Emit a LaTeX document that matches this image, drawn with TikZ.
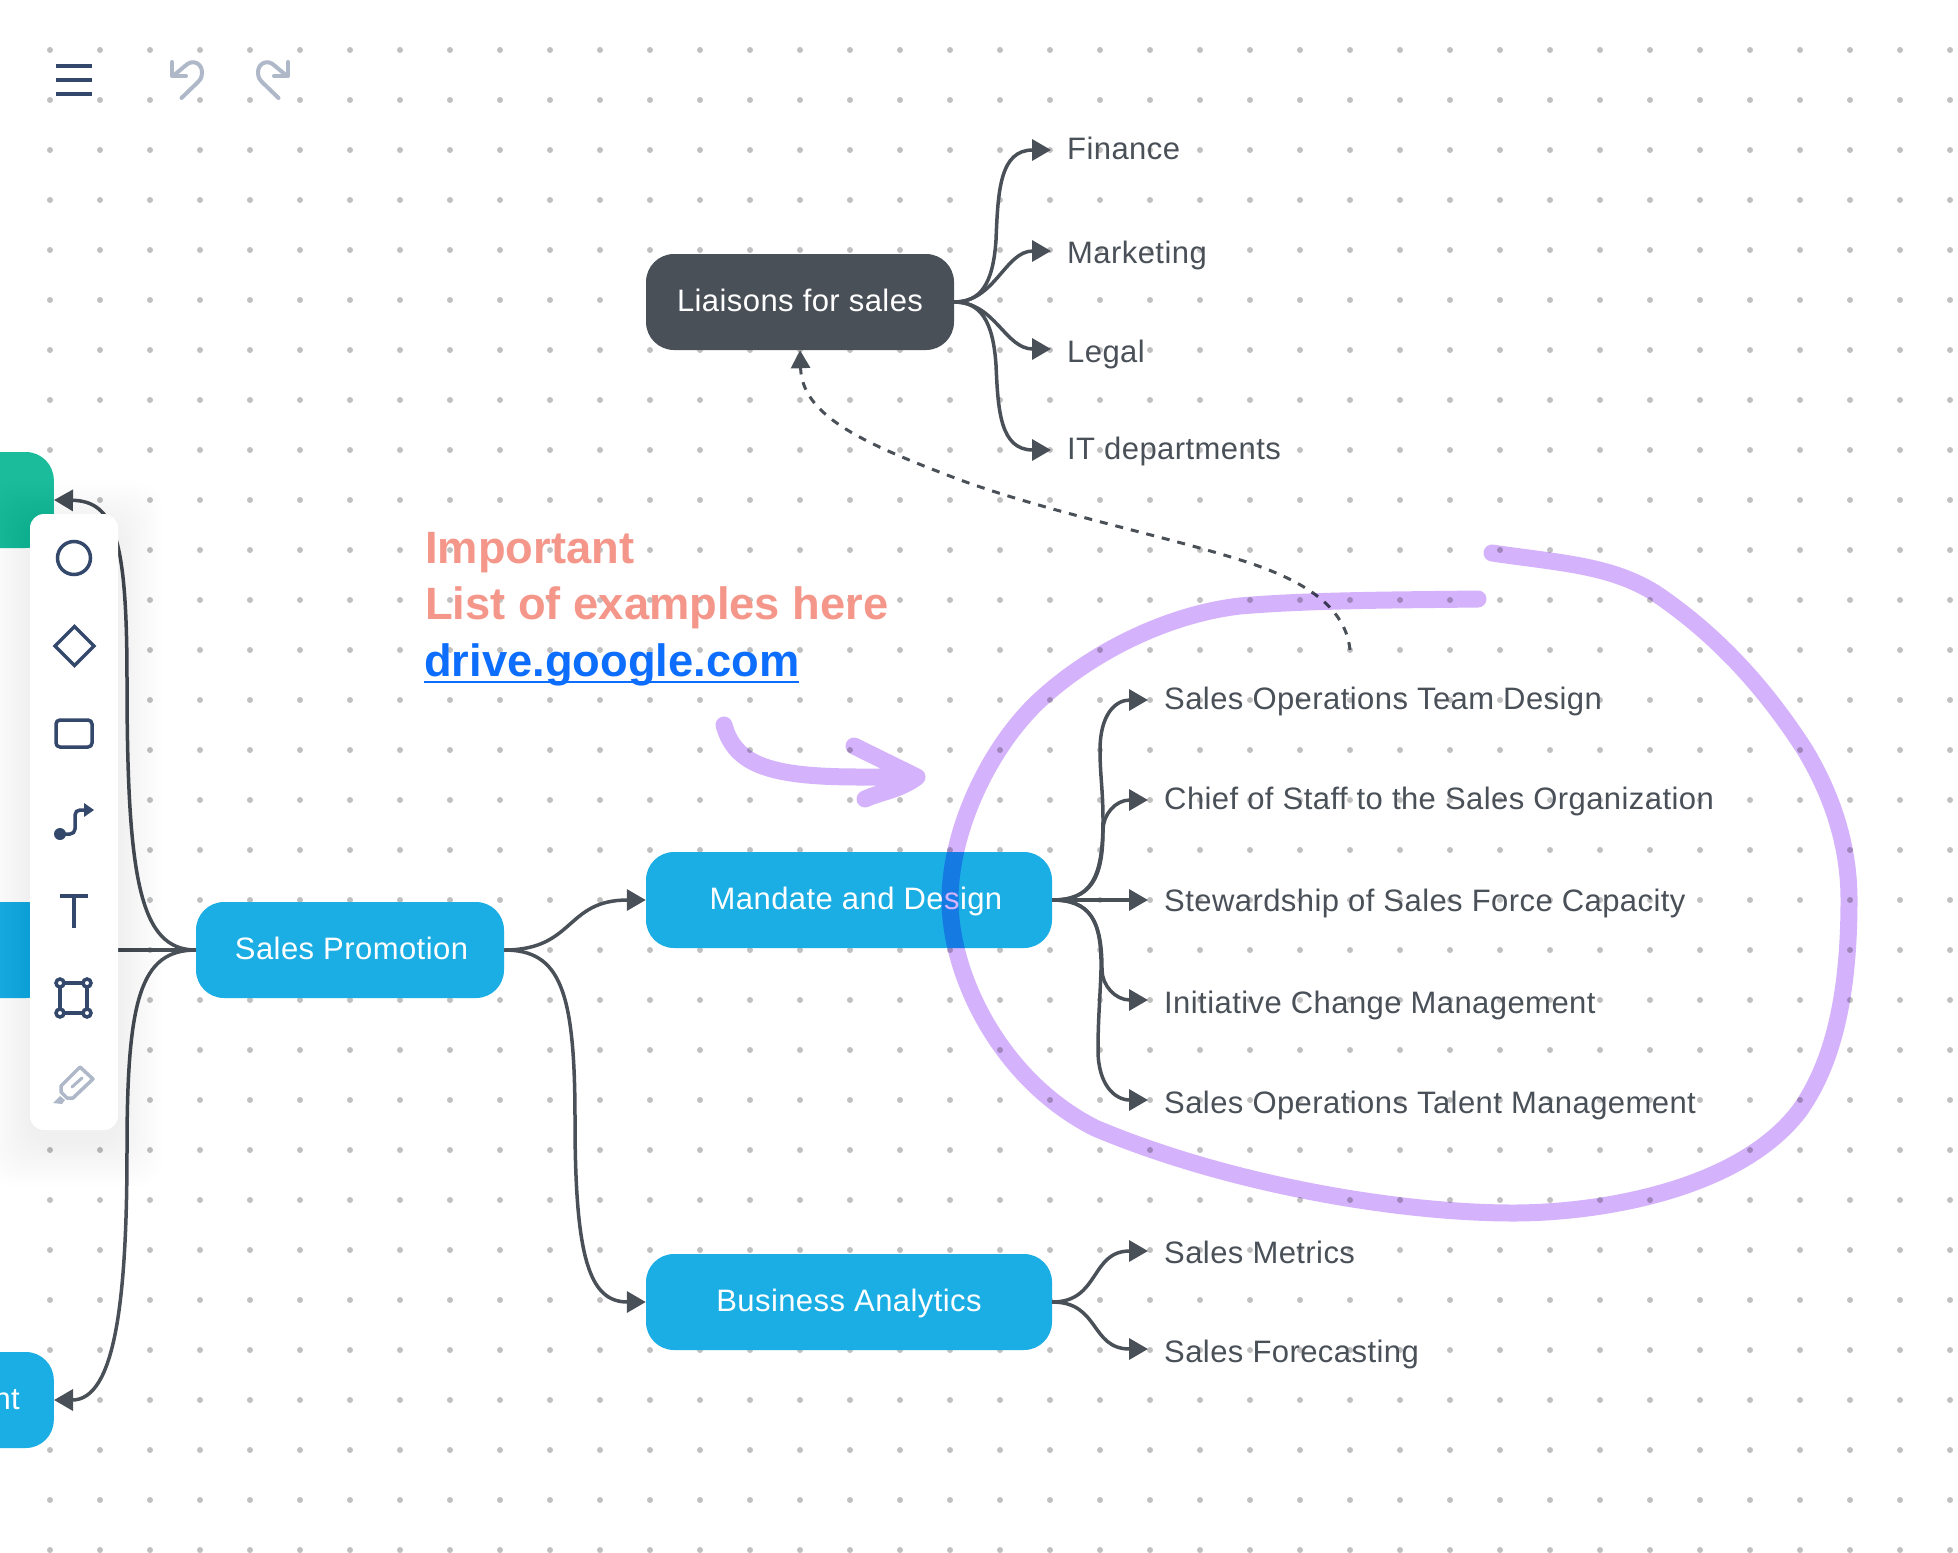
\documentclass[tikz,border=0pt]{standalone}
\usepackage{fontspec}
\setmainfont[LetterSpace=1.4]{Liberation Sans}
\newfontfamily\notefont{Liberation Sans}
\usetikzlibrary{calc}
\usetikzlibrary{arrows.meta}
\definecolor{griddot}{HTML}{C0C0C0}
\definecolor{topicblue}{HTML}{1AAEE5}
\definecolor{topicgreen}{HTML}{1ABC9C}
\definecolor{darkslate}{HTML}{4A5058}
\definecolor{penpurple}{HTML}{D5B3FC}
\definecolor{salmon}{HTML}{F4978A}
\definecolor{linkblue}{HTML}{0D6EFD}
\definecolor{iconnavy}{HTML}{34486B}
\definecolor{iconpale}{HTML}{AEB8C8}
\tikzset{
    topicbox/.style={fill=topicblue,text=white,rounded corners=28pt,minimum height=96pt,inner sep=0pt,
        text height=24pt,text depth=6pt,font=\fontsize{31}{36}\selectfont},
    leaf/.style={anchor=west,inner xsep=16pt,inner ysep=0pt,text=darkslate,text depth=6pt,text height=#1,
        font=\fontsize{31}{36}\selectfont},
    link/.style={draw=darkslate,line width=3.5pt,-{Triangle[length=19pt,width=21pt]}},
    hint/.style={draw=darkslate,line width=3pt,dash pattern=on 8pt off 8pt,-{Triangle[length=18pt,width=19pt]}},
    pen/.style={draw=penpurple,line width=17pt,line cap=round,line join=round,blend mode=multiply},
    icon/.style={draw=iconnavy,line width=3.5pt},
    paleicon/.style={draw=iconpale,line width=4pt,line cap=round,line join=round},
    note/.style={anchor=base west,inner sep=0pt,font=\notefont\bfseries\fontsize{45.3}{56}\selectfont}
}
\begin{document}
\begin{tikzpicture}[x=1pt,y=-1pt]
    \path[use as bounding box] (0,0) rectangle (1958,1552);
    \fill[white] (0,0) rectangle (1958,1552);

    \foreach \x in {50,100,...,1950}
        \foreach \y in {50,100,...,1550}
            \fill[griddot] (\x,\y) circle (3);

    \node[topicbox,fill=topicgreen,anchor=east,minimum width=118pt] (greenbox) at (54,500) {};
    \node[topicbox,anchor=east,minimum width=118pt] (midbox) at (54,950) {};
    \node[topicbox,anchor=east,text width=50pt,align=right,inner xsep=34pt] (ntbox) at (54,1400) {nt};

    \node[topicbox,minimum width=308pt] (promotion) at (350,950) {\hspace*{3pt}Sales Promotion};
    \node[topicbox,minimum width=406pt] (mandate) at (849,900) {\hspace*{14pt}Mandate and Design};
    \node[topicbox,minimum width=406pt] (business) at (849,1302) {Business Analytics};
    \node[topicbox,fill=darkslate,minimum width=308pt] (liaisons) at (800,302) {Liaisons for sales};

    \node[leaf=24pt] (finance) at (1051,150) {Finance};
    \node[leaf=30pt] (marketing) at (1051,251) {Marketing};
    \node[leaf=32pt] (legal) at (1051,349) {Legal};
    \node[leaf=24pt] (itdept) at (1051,450) {IT departments};

    \node[leaf=24pt] (teamdesign) at (1148,700) {Sales Operations Team Design};
    \node[leaf=24pt] (chief) at (1148,800) {Chief of Staff to the Sales Organization};
    \node[leaf=28pt] (stewardship) at (1148,900) {Stewardship of Sales Force Capacity};
    \node[leaf=32pt] (initiative) at (1148,1000) {Initiative Change Management};
    \node[leaf=32pt] (talent) at (1148,1100) {Sales Operations Talent Management};
    \node[leaf=30pt] (metrics) at (1148,1251) {Sales Metrics};
    \node[leaf=32pt] (forecasting) at (1148,1349) {Sales Forecasting};

    \node[note,text=salmon] (important) at (425,563) {Important};
    \node[note,text=salmon] (examples) at (425,619) {List of examples here};
    \node[note,text=linkblue] (drive) at (424,676) {drive.google.com};
    \draw[linkblue,line width=2.5pt] ($(drive.base west)+(0,6)$) -- ($(drive.base east)+(0,6)$);

    \draw[link] (promotion.west) -- (midbox.east);
    \draw[link] (promotion.west) .. controls (140,950) and (127,880) .. (127,680)
        .. controls (127,540) and (115,501) .. (greenbox.east);
    \draw[link] (promotion.west) .. controls (140,950) and (127,1000) .. (127,1150)
        .. controls (127,1300) and (115,1400) .. (ntbox.east);
    \draw[link] (promotion.east) .. controls (575,950) and (565,900) .. (mandate.west);
    \draw[link] (promotion.east) .. controls (560,950) and (575,990) .. (575,1120)
        .. controls (575,1260) and (590,1302) .. (business.west);

    \draw[link] (liaisons.east) .. controls (980,302) and (993,285) .. (996,240)
        .. controls (998,190) and (1000,150) .. (finance.west);
    \draw[link] (liaisons.east) .. controls (995,302) and (1005,251) .. (marketing.west);
    \draw[link] (liaisons.east) .. controls (995,302) and (1005,349) .. (legal.west);
    \draw[link] (liaisons.east) .. controls (980,302) and (993,320) .. (996,365)
        .. controls (998,410) and (1000,450) .. (itdept.west);

    \draw[link] (mandate.east) .. controls (1090,900) and (1103,880) .. (1103,820)
        .. controls (1103,790) and (1100,775) .. (1100,750) .. controls (1100,715) and (1115,700) .. (teamdesign.west);
    \draw[link] (mandate.east) .. controls (1090,900) and (1103,880) .. (1103,830)
        .. controls (1103,815) and (1115,800) .. (chief.west);
    \draw[link] (mandate.east) -- (stewardship.west);
    \draw[link] (mandate.east) .. controls (1090,900) and (1102,920) .. (1102,970)
        .. controls (1102,985) and (1115,1000) .. (initiative.west);
    \draw[link] (mandate.east) .. controls (1090,900) and (1102,920) .. (1101,970)
        .. controls (1100,1000) and (1098,1020) .. (1098,1050) .. controls (1098,1085) and (1115,1100) .. (talent.west);

    \draw[link] (business.east) .. controls (1100,1302) and (1090,1251) .. (metrics.west);
    \draw[link] (business.east) .. controls (1100,1302) and (1090,1349) .. (forecasting.west);

    \coordinate (hintstart) at (1350,650);
    \draw[hint] (hintstart) .. controls (1345,600) and (1290,575) .. (1234,558)
        .. controls (1160,535) and (1040,510) .. (955,478)
        .. controls (860,442) and (802,415) .. (liaisons.south);

    \draw[pen] (1478,599) .. controls (1400,600) and (1310,600) .. (1240,606)
        .. controls (1170,614) and (1095,650) .. (1042,698)
        .. controls (990,745) and (950,830) .. (950,900)
        .. controls (950,975) and (1000,1080) .. (1095,1128)
        .. controls (1230,1185) and (1400,1213) .. (1513,1213)
        .. controls (1600,1213) and (1740,1190) .. (1800,1110)
        .. controls (1835,1060) and (1849,990) .. (1849,900)
        .. controls (1849,850) and (1835,800) .. (1805,750)
        .. controls (1760,680) and (1710,630) .. (1655,593)
        .. controls (1610,565) and (1560,563) .. (1492,553);
    \draw[pen] (724,725) .. controls (735,765) and (770,777) .. (860,777) -- (917,777)
        (854,746) -- (917,777) .. controls (900,790) and (880,792) .. (865,799);

    \foreach \s in {2,5,...,44}
        \fill[black,opacity=0.005,rounded corners=26pt] ({30-\s},{526-\s}) rectangle ({118+\s},{1142+\s});
    \fill[white,rounded corners=14pt] (30,514) rectangle (118,1130);

    \fill[iconnavy] (56,64) rectangle (92,68);
    \fill[iconnavy] (56,78) rectangle (92,82);
    \fill[iconnavy] (56,92) rectangle (92,96);

    \draw[paleicon] (172,62) -- (172,76) -- (186,76);
    \draw[paleicon] (173,76) -- (185,66) .. controls (193,58) and (202,64) .. (202,72)
        .. controls (202,78) and (200,80) .. (197,83) -- (181.5,98);
    \draw[paleicon] (288,62) -- (288,76) -- (274,76);
    \draw[paleicon] (287,76) -- (275,66) .. controls (267,58) and (258,64) .. (258,72)
        .. controls (258,78) and (260,80) .. (263,83) -- (278.5,98);

    \draw[icon] (74,558) circle (16.5);
    \draw[icon] (74.5,626.5) -- (94,646) -- (74.5,665.5) -- (55,646) -- cycle;
    \draw[icon,rounded corners=4pt] (56,720) rectangle (92,747);

    \fill[iconnavy] (60,834) circle (6);
    \draw[icon,rounded corners=5pt] (60,834) -- (75,834) -- (75,810) -- (86,810);
    \fill[iconnavy] (84,803) -- (94,810) -- (84,817) -- cycle;

    \draw[icon] (60,896) -- (88,896);
    \draw[icon] (74,896) -- (74,928);

    \draw[icon] (60,983) rectangle (87,1013);
    \foreach \x in {60,87}
        \foreach \y in {983,1013}
            \draw[icon,fill=white] (\x,\y) circle (4);

    \draw[paleicon,line width=3.5pt] (80,1067) -- (93,1079) -- (73,1098) -- (67,1098) -- (61,1092) -- (61,1086) -- cycle;
    \draw[paleicon,line width=3pt] (72,1087) -- (82,1078);
    \fill[iconpale] (53,1103) -- (60,1096) -- (65,1100) -- (62,1104) -- cycle;
\end{tikzpicture}
\end{document}
